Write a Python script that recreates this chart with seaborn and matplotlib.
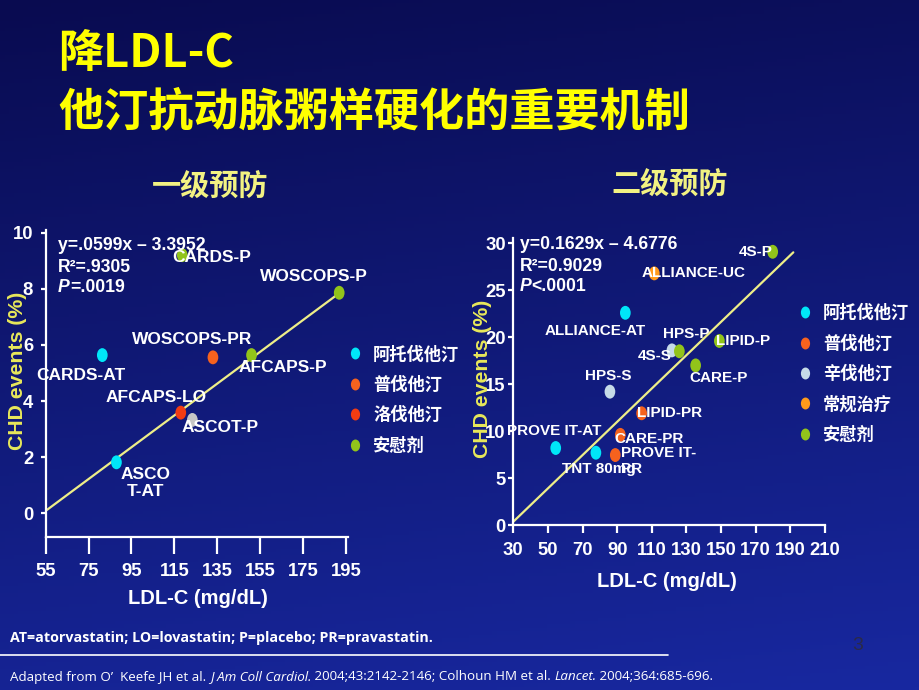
import numpy as np
import pandas as pd
import matplotlib
matplotlib.use("Agg")
import matplotlib.pyplot as plt
from matplotlib.path import Path
from matplotlib.lines import Line2D
import seaborn as sns

# ---------------- data ----------------
# 一级预防 (primary prevention)
pri_study = ["CARDS-AT", "ASCO\nT-AT", "AFCAPS-LO", "ASCOT-P", "WOSCOPS-PR",
             "AFCAPS-P", "WOSCOPS-P", "CARDS-P"]
pri_ldl = [81.4, 88.0, 118.0, 123.4, 133.0, 151.0, 191.9, 118.7]
pri_chd = [5.64, 1.82, 3.59, 3.33, 5.56, 5.64, 7.86, 9.20]
pri_drug = ["阿托伐他汀", "阿托伐他汀", "洛伐他汀", "其他", "普伐他汀",
            "安慰剂", "安慰剂", "安慰剂"]
pri_fit_x = [55.5, 193.4]
pri_fit_y = [0.12, 7.93]
pri_xticks = [55, 75, 95, 115, 135, 155, 175, 195]
pri_yticks = [0, 2, 4, 6, 8, 10]
pri_legend = ["阿托伐他汀", "普伐他汀", "洛伐他汀", "安慰剂"]
pri_eq = ["y=.0599x – 3.3952", "R²=.9305", "=.0019"]

# 二级预防 (secondary prevention)
sec_study = ["PROVE IT-AT", "TNT 80mg", "ALLIANCE-AT", "HPS-S", "4S-S", "HPS-P",
             "LIPID-P", "CARE-P", "4S-P", "ALLIANCE-UC", "LIPID-PR", "CARE-PR",
             "PROVE IT-\nPR"]
sec_ldl = [54.5, 77.7, 94.7, 85.8, 121.6, 125.9, 149.0, 135.3, 179.8, 111.4,
           104.1, 91.8, 88.9]
sec_chd = [8.2, 7.7, 22.6, 14.2, 18.6, 18.5, 19.6, 17.0, 29.1, 26.8, 11.9, 9.6, 7.45]
sec_drug = ["阿托伐他汀", "阿托伐他汀", "阿托伐他汀", "辛伐他汀", "辛伐他汀", "安慰剂",
            "安慰剂", "安慰剂", "安慰剂", "常规治疗", "普伐他汀", "普伐他汀", "普伐他汀"]
sec_fit_x = [30.0, 191.7]
sec_fit_y = [0.35, 29.04]
sec_xticks = [30, 50, 70, 90, 110, 130, 150, 170, 190, 210]
sec_yticks = [0, 5, 10, 15, 20, 25, 30]
sec_legend = ["阿托伐他汀", "普伐他汀", "辛伐他汀", "常规治疗", "安慰剂"]
sec_eq = ["y=0.1629x – 4.6776", "R²=0.9029", "<.0001"]

# ---------------- style ----------------
palette = {"阿托伐他汀": "#00e6f8", "普伐他汀": "#f6621e", "洛伐他汀": "#f23c12",
           "安慰剂": "#92c41a", "辛伐他汀": "#c6dbe8", "常规治疗": "#ff9a1c",
           "其他": "#c6c6c6"}

sns.set_theme(style="white")
plt.rcParams["font.family"] = ["Liberation Sans", "Noto Sans CJK SC", "DejaVu Sans"]
CJK = ["Noto Sans CJK SC", "DejaVu Sans"]
LAT = ["Liberation Sans", "DejaVu Sans"]
WHITE = "white"
YEL = "#ffff00"
LINE_Y = "#eeee88"

circ = Path.unit_circle()
ELL = Path(circ.vertices * np.array([0.77, 1.0]), circ.codes)

W, H = 920, 690
fig = plt.figure(figsize=(9.2, 6.9), dpi=100)

# background gradient
ax_bg = fig.add_axes([0, 0, 1, 1], zorder=-10)
yy = np.linspace(0, 1, 200)[:, None]
xx = np.linspace(0, 1, 200)[None, :]
top = np.array([9, 11, 80]) / 255
bot = np.array([24, 40, 160]) / 255
t = np.clip(0.85 * yy + 0.15 * xx, 0, 1)[..., None]
grad = top * (1 - t) + bot * t
ax_bg.imshow(grad, extent=[0, 1, 0, 1], aspect="auto", origin="upper")
ax_bg.set_xlim(0, 1)
ax_bg.set_ylim(0, 1)
ax_bg.axis("off")


def fx(px):
    return px / W


def fy(py):
    return 1 - py / H


def style_axes(ax, xticks, yticks, xlen, ylen, xpad, ypad):
    ax.set_facecolor("none")
    for s in ["top", "right"]:
        ax.spines[s].set_visible(False)
    for s in ["left", "bottom"]:
        ax.spines[s].set_color(WHITE)
        ax.spines[s].set_linewidth(1.6)
    ax.set_xticks(xticks)
    ax.set_yticks(yticks)
    ax.tick_params(axis="x", which="both", direction="out", length=xlen, width=1.6,
                   color=WHITE, pad=xpad, bottom=True)
    ax.tick_params(axis="y", which="both", direction="out", length=ylen, width=1.6,
                   color=WHITE, pad=ypad, left=True)
    for lab in ax.get_xticklabels() + ax.get_yticklabels():
        lab.set_fontfamily(LAT)
        lab.set_fontweight("bold")
        lab.set_fontsize(13.3)
        lab.set_color(WHITE)
    ax.grid(False)


def draw_panel(ax, study, ldl, chd, drug, fit_x, fit_y, offsets, lab_size):
    df = pd.DataFrame({"study": study, "ldl": ldl, "chd": chd, "drug": drug})
    ax.plot(fit_x, fit_y, color=LINE_Y, lw=1.6, zorder=2)
    sns.scatterplot(data=df, x="ldl", y="chd", hue="drug", palette=palette,
                    marker=ELL, s=100, linewidth=0, legend=False, ax=ax, zorder=3)
    for i, row in df.iterrows():
        dx, dy, ha, va = offsets[i]
        ax.annotate(row["study"], (row["ldl"], row["chd"]), xytext=(dx, dy),
                    textcoords="offset pixels", ha=ha, va=va, multialignment=ha,
                    fontsize=lab_size, fontweight="bold", color=WHITE,
                    fontfamily=LAT, zorder=5, linespacing=1.15, annotation_clip=False)


def legend(ax, names, anchor):
    handles = [Line2D([], [], marker=ELL, linestyle="", markersize=8.6,
                      markerfacecolor=palette[n], markeredgewidth=0) for n in names]
    lg = fig.legend(handles, names, loc="center left", bbox_to_anchor=anchor,
                    bbox_transform=fig.transFigure, frameon=False, borderpad=0,
                    borderaxespad=0, handlelength=0.8, handletextpad=0.65,
                    labelspacing=0.72, prop={"family": CJK, "weight": "bold", "size": 12.4})
    for txt in lg.get_texts():
        txt.set_color(WHITE)


def equation(ax, lines, x, ys, size):
    ax.text(x, ys[0], lines[0], transform=ax.transAxes, ha="left", va="center",
            fontsize=size, fontweight="bold", color=WHITE, fontfamily=LAT, zorder=6)
    ax.text(x, ys[1], lines[1], transform=ax.transAxes, ha="left", va="center",
            fontsize=size, fontweight="bold", color=WHITE, fontfamily=LAT, zorder=6)
    tp = ax.text(x, ys[2], "P", transform=ax.transAxes, ha="left", va="center",
                 fontsize=size, fontweight="bold", fontstyle="italic", color=WHITE,
                 fontfamily=LAT, zorder=6)
    ax.annotate(lines[2], xy=(1, 0), xycoords=tp, ha="left", va="bottom",
                fontsize=size, fontweight="bold", color=WHITE, fontfamily=LAT, zorder=6)


# ---------------- left panel ----------------
axL = fig.add_axes([fx(45.7), fy(536.7), fx(348) - fx(45.7), fy(229.9) - fy(536.7)])
pri_off = [(-21, -20, "center", "center"), (29, -21, "center", "center"),
           (-25, 15, "center", "center"), (28, -8, "center", "center"),
           (-21, 18, "center", "center"), (31, -12, "center", "center"),
           (-25, 16, "center", "center"), (29, -2, "center", "center")]
draw_panel(axL, pri_study, pri_ldl, pri_chd, pri_drug, pri_fit_x, pri_fit_y, pri_off, 12.5)
axL.set_xlim(55, 196)
axL.set_ylim(-0.83, 10.1)
style_axes(axL, pri_xticks, pri_yticks, 12, 3.5, 7, 5.5)
axL.set_xlabel("LDL-C (mg/dL)", fontsize=14.5, fontweight="bold", color=WHITE, fontfamily=LAT)
axL.set_ylabel("CHD events (%)", fontsize=15.3, fontweight="bold", color="#e8e85a", fontfamily=LAT)
axL.xaxis.set_label_coords(0.504, -0.20)
axL.xaxis.label.set_va("center")
axL.yaxis.set_label_coords(-0.092, 0.541)
axL.yaxis.label.set_va("center")
equation(axL, pri_eq, 0.041, [0.950, 0.878, 0.813], 12.7)
legend(axL, pri_legend, (fx(348.2), fy(400)))

# ---------------- right panel ----------------
axR = fig.add_axes([fx(513.3), fy(525), fx(825) - fx(513.3), fy(237.7) - fy(525)])
sec_off = [(-2, 17, "center", "center"), (3, -16, "center", "center"),
           (-30, -18, "center", "center"), (-2, 16, "center", "center"),
           (-17, -6, "center", "center"), (7, 17, "center", "center"),
           (24, 0, "center", "center"), (23, -13, "center", "center"),
           (-17, 0, "center", "center"), (39, 0, "center", "center"),
           (28, 0, "center", "center"), (29, -4, "center", "center"),
           (6, 9, "left", "top")]
draw_panel(axR, sec_study, sec_ldl, sec_chd, sec_drug, sec_fit_x, sec_fit_y, sec_off, 11)
axR.set_xlim(30, 210)
axR.set_ylim(0, 30.6)
style_axes(axR, sec_xticks, sec_yticks, 6, 3.5, 6, 2)
axR.set_xlabel("LDL-C (mg/dL)", fontsize=14.5, fontweight="bold", color=WHITE, fontfamily=LAT)
axR.set_ylabel("CHD events (%)", fontsize=15.3, fontweight="bold", color="#e8e85a", fontfamily=LAT)
axR.xaxis.set_label_coords(0.493, -0.197)
axR.xaxis.label.set_va("center")
axR.yaxis.set_label_coords(-0.10, 0.508)
axR.yaxis.label.set_va("center")
equation(axR, sec_eq, 0.021, [0.975, 0.9, 0.83], 12.7)
legend(axR, sec_legend, (fx(798.2), fy(374)))

# ---------------- titles ----------------
fig.text(fx(58), fy(54), "降LDL-C", ha="left", va="center", fontsize=32.5,
         fontweight="bold", color=YEL, fontfamily=CJK)
fig.text(fx(58), fy(112), "他汀抗动脉粥样硬化的重要机制", ha="left", va="center",
         fontsize=32.5, fontweight="bold", color=YEL, fontfamily=CJK)
fig.text(fx(210), fy(187), "一级预防", ha="center", va="center", fontsize=21,
         fontweight="bold", color="#f2f282", fontfamily=CJK)
fig.text(fx(670), fy(185), "二级预防", ha="center", va="center", fontsize=21,
         fontweight="bold", color="#f2f282", fontfamily=CJK)

# ---------------- footer ----------------
FOOT = ["Open Sans", "DejaVu Sans"]
ax_bg.text(fx(10), fy(638), "AT=atorvastatin; LO=lovastatin; P=placebo; PR=pravastatin.",
           ha="left", va="center", fontsize=10.3, fontweight="bold", color=WHITE,
           fontfamily=FOOT, transform=ax_bg.transAxes)
ax_bg.axhline(fy(655), xmin=0, xmax=fx(668), color=WHITE, lw=1.2)
segs = [("Adapted from O’  Keefe JH et al. ", "normal"), ("J Am Coll Cardiol.", "italic"),
        (" 2004;43:2142-2146; Colhoun HM et al. ", "normal"), ("Lancet.", "italic"),
        (" 2004;364:685-696.", "normal")]
tprev = ax_bg.text(fx(10), fy(677), segs[0][0], ha="left", va="center", fontsize=9.6,
                   color=WHITE, fontfamily=FOOT, fontstyle=segs[0][1],
                   transform=ax_bg.transAxes)
for s, st in segs[1:]:
    tprev = ax_bg.annotate(s, xy=(1, 0), xycoords=tprev, ha="left", va="bottom",
                           fontsize=9.6, color=WHITE, fontfamily=FOOT, fontstyle=st)
ax_bg.text(fx(858), fy(645), "3", ha="center", va="center", fontsize=14,
           color="#2a2a48", fontfamily=LAT, transform=ax_bg.transAxes)

fig.savefig("out.png", dpi=100, facecolor=fig.get_facecolor())
